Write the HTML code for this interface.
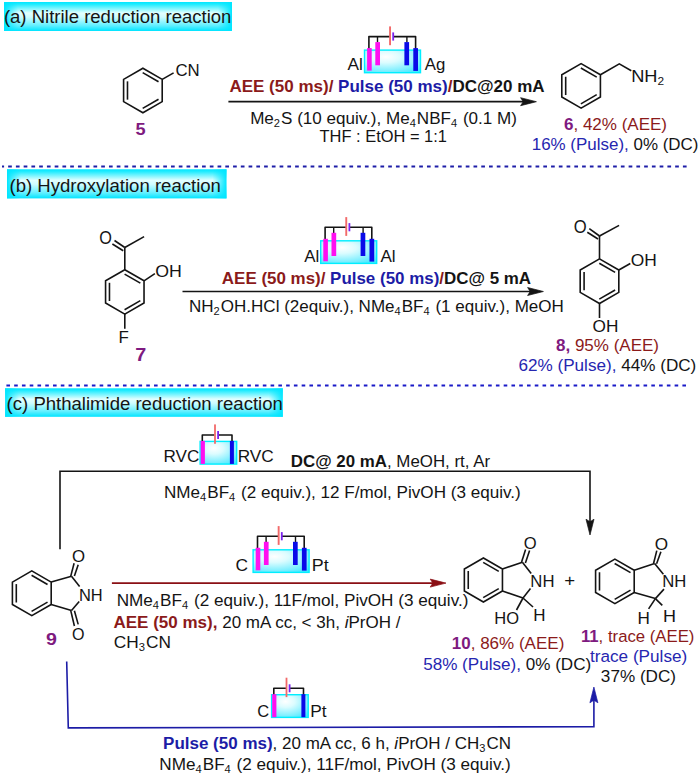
<!DOCTYPE html><html><head><meta charset="utf-8"><style>html,body{margin:0;padding:0;background:#fff;width:700px;height:776px;overflow:hidden}text{font-family:"Liberation Sans",sans-serif}</style></head><body><svg width="700" height="776" viewBox="0 0 700 776" font-family='"Liberation Sans", sans-serif' style="position:absolute;left:0;top:0;display:block"><defs>
<radialGradient id="cellg" cx="0.38" cy="0.3" r="0.85">
<stop offset="0" stop-color="#ffffff"/><stop offset="0.3" stop-color="#dcfcff"/><stop offset="0.7" stop-color="#86f0ff"/><stop offset="1" stop-color="#40e8ff"/>
</radialGradient>
<linearGradient id="hdrv" x1="0" y1="0" x2="0" y2="1">
<stop offset="0" stop-color="#00e6ff"/><stop offset="0.08" stop-color="#22ecff"/><stop offset="0.38" stop-color="#e2ffff"/><stop offset="0.52" stop-color="#cefcff"/><stop offset="0.8" stop-color="#66f0ff"/><stop offset="1" stop-color="#00e4ff"/>
</linearGradient>
<linearGradient id="hdrl" x1="0" y1="0" x2="1" y2="0">
<stop offset="0" stop-color="#00e6ff" stop-opacity="1"/><stop offset="1" stop-color="#00e6ff" stop-opacity="0"/>
</linearGradient>
<linearGradient id="hdrr" x1="1" y1="0" x2="0" y2="0">
<stop offset="0" stop-color="#00e6ff" stop-opacity="1"/><stop offset="1" stop-color="#00e6ff" stop-opacity="0"/>
</linearGradient>
</defs><rect x="4" y="2" width="228.00" height="29.00" fill="url(#hdrv)"/><rect x="4" y="2" width="14.00" height="29.00" fill="url(#hdrl)"/><rect x="218.00" y="2" width="14.00" height="29.00" fill="url(#hdrr)"/><polygon points="142.90,68.20 162.21,79.35 162.21,101.65 142.90,112.80 123.59,101.65 123.59,79.35" fill="none" stroke="#141414" stroke-width="1.6" stroke-linejoin="miter"/><line x1="142.68" y1="72.58" x2="158.53" y2="81.73" stroke="#141414" stroke-width="1.6" stroke-linecap="butt"/><line x1="127.49" y1="99.65" x2="127.49" y2="81.35" stroke="#141414" stroke-width="1.6" stroke-linecap="butt"/><line x1="158.53" y1="99.27" x2="142.68" y2="108.42" stroke="#141414" stroke-width="1.6" stroke-linecap="butt"/><line x1="162.21" y1="79.35" x2="173.60" y2="72.90" stroke="#141414" stroke-width="1.6" stroke-linecap="butt"/><g transform="translate(364.00,49.60)"><rect x="0.5" y="0.5" width="56" height="22.6" fill="url(#cellg)" stroke="#00eeff" stroke-width="1.4"/><path d="M4.9,0 V-13 H26 M29.3,-13 H51.6 V0" fill="none" stroke="#141414" stroke-width="1.6" stroke-linejoin="round"/><path d="M13.5,-13 V-7 M42.9,-13 V-7" fill="none" stroke="#141414" stroke-width="1.4"/><rect x="25.1" y="-23.2" width="1.9" height="18.8" fill="#f26a6a"/><rect x="28.3" y="-17.2" width="1.8" height="8.2" fill="#7b22ee"/><rect x="3.1" y="-1.5" width="4.6" height="22.5" fill="#ff10f0"/><rect x="11.3" y="-7.5" width="4.7" height="23.2" fill="#ff10f0"/><rect x="40.4" y="-7.5" width="4.7" height="23.2" fill="#0a0ae8"/><rect x="49.3" y="-1.5" width="4.7" height="22.8" fill="#0a0ae8"/></g><line x1="228.40" y1="101.70" x2="528.00" y2="101.70" stroke="#141414" stroke-width="1.7" stroke-linecap="butt"/><polygon points="536.40,101.70 520.60,105.70 523.20,101.70 520.60,97.70" fill="#141414" stroke="#141414" stroke-width="0.7" stroke-linejoin="round"/><polygon points="581.10,63.60 600.41,74.75 600.41,97.05 581.10,108.20 561.79,97.05 561.79,74.75" fill="none" stroke="#141414" stroke-width="1.6" stroke-linejoin="miter"/><line x1="580.88" y1="67.98" x2="596.73" y2="77.13" stroke="#141414" stroke-width="1.6" stroke-linecap="butt"/><line x1="565.69" y1="95.05" x2="565.69" y2="76.75" stroke="#141414" stroke-width="1.6" stroke-linecap="butt"/><line x1="596.73" y1="94.67" x2="580.88" y2="103.82" stroke="#141414" stroke-width="1.6" stroke-linecap="butt"/><polyline points="600.41,74.75 619.3,63.9 631.3,70.8" fill="none" stroke="#141414" stroke-width="1.6"/><line x1="2" y1="166.5" x2="687.5" y2="166.5" stroke="#1e1ea8" stroke-width="2" stroke-dasharray="3.7 4.056" stroke-dashoffset="1.616"/><rect x="7" y="169.3" width="219.50" height="29.10" fill="url(#hdrv)"/><rect x="7" y="169.3" width="14.00" height="29.10" fill="url(#hdrl)"/><rect x="212.50" y="169.3" width="14.00" height="29.10" fill="url(#hdrr)"/><polygon points="124.80,269.70 144.03,280.80 144.03,303.00 124.80,314.10 105.57,303.00 105.57,280.80" fill="none" stroke="#141414" stroke-width="1.6" stroke-linejoin="miter"/><line x1="124.58" y1="274.08" x2="140.34" y2="283.18" stroke="#141414" stroke-width="1.6" stroke-linecap="butt"/><line x1="109.47" y1="301.00" x2="109.47" y2="282.80" stroke="#141414" stroke-width="1.6" stroke-linecap="butt"/><line x1="140.34" y1="300.62" x2="124.58" y2="309.72" stroke="#141414" stroke-width="1.6" stroke-linecap="butt"/><line x1="124.80" y1="269.70" x2="124.80" y2="247.50" stroke="#141414" stroke-width="1.6" stroke-linecap="butt"/><line x1="124.80" y1="247.50" x2="144.10" y2="236.60" stroke="#141414" stroke-width="1.6" stroke-linecap="butt"/><line x1="124.80" y1="247.50" x2="114.50" y2="240.50" stroke="#141414" stroke-width="1.6" stroke-linecap="butt"/><line x1="123.20" y1="250.80" x2="112.40" y2="244.00" stroke="#141414" stroke-width="1.6" stroke-linecap="butt"/><line x1="144.03" y1="280.80" x2="154.90" y2="273.70" stroke="#141414" stroke-width="1.6" stroke-linecap="butt"/><line x1="124.80" y1="314.10" x2="124.80" y2="328.80" stroke="#141414" stroke-width="1.6" stroke-linecap="butt"/><g transform="translate(320.20,240.30)"><rect x="0.5" y="0.5" width="56" height="22.6" fill="url(#cellg)" stroke="#00eeff" stroke-width="1.4"/><path d="M4.9,0 V-13 H26 M29.3,-13 H51.6 V0" fill="none" stroke="#141414" stroke-width="1.6" stroke-linejoin="round"/><path d="M13.5,-13 V-7 M42.9,-13 V-7" fill="none" stroke="#141414" stroke-width="1.4"/><rect x="25.1" y="-23.2" width="1.9" height="18.8" fill="#f26a6a"/><rect x="28.3" y="-17.2" width="1.8" height="8.2" fill="#7b22ee"/><rect x="3.1" y="-1.5" width="4.6" height="22.5" fill="#ff10f0"/><rect x="11.3" y="-7.5" width="4.7" height="23.2" fill="#ff10f0"/><rect x="40.4" y="-7.5" width="4.7" height="23.2" fill="#0a0ae8"/><rect x="49.3" y="-1.5" width="4.7" height="22.8" fill="#0a0ae8"/></g><line x1="182.50" y1="291.50" x2="535.00" y2="291.50" stroke="#141414" stroke-width="1.7" stroke-linecap="butt"/><polygon points="543.40,291.50 527.60,295.50 530.20,291.50 527.60,287.50" fill="#141414" stroke="#141414" stroke-width="0.7" stroke-linejoin="round"/><polygon points="599.50,258.90 618.81,270.05 618.81,292.35 599.50,303.50 580.19,292.35 580.19,270.05" fill="none" stroke="#141414" stroke-width="1.6" stroke-linejoin="miter"/><line x1="599.28" y1="263.28" x2="615.13" y2="272.43" stroke="#141414" stroke-width="1.6" stroke-linecap="butt"/><line x1="584.09" y1="290.35" x2="584.09" y2="272.05" stroke="#141414" stroke-width="1.6" stroke-linecap="butt"/><line x1="615.13" y1="289.97" x2="599.28" y2="299.12" stroke="#141414" stroke-width="1.6" stroke-linecap="butt"/><line x1="599.50" y1="258.90" x2="599.50" y2="236.00" stroke="#141414" stroke-width="1.6" stroke-linecap="butt"/><line x1="599.50" y1="236.00" x2="619.10" y2="225.40" stroke="#141414" stroke-width="1.6" stroke-linecap="butt"/><line x1="599.50" y1="236.00" x2="589.30" y2="228.60" stroke="#141414" stroke-width="1.6" stroke-linecap="butt"/><line x1="598.00" y1="239.00" x2="587.30" y2="232.30" stroke="#141414" stroke-width="1.6" stroke-linecap="butt"/><line x1="618.81" y1="270.05" x2="630.30" y2="263.50" stroke="#141414" stroke-width="1.6" stroke-linecap="butt"/><line x1="599.50" y1="303.50" x2="599.50" y2="318.00" stroke="#141414" stroke-width="1.6" stroke-linecap="butt"/><line x1="6.4" y1="385.4" x2="686" y2="385.4" stroke="#1a1ac8" stroke-width="2" stroke-dasharray="3.6 4.170" stroke-dashoffset="0.000"/><rect x="5.1" y="388.3" width="277.70" height="28.50" fill="url(#hdrv)"/><rect x="5.1" y="388.3" width="14.00" height="28.50" fill="url(#hdrl)"/><rect x="268.80" y="388.3" width="14.00" height="28.50" fill="url(#hdrr)"/><g transform="translate(199.60,440.90)"><rect x="0.5" y="0.5" width="36.6" height="22.7" fill="url(#cellg)" stroke="#00eeff" stroke-width="1.4"/><path d="M2.7,0.5 V-5.9 H15 M18.3,-5.9 H32.4 V0.5" fill="none" stroke="#141414" stroke-width="1.6" stroke-linejoin="round"/><rect x="14.5" y="-16.5" width="1.8" height="19.4" fill="#f26a6a"/><rect x="17.6" y="-9.9" width="1.8" height="8" fill="#7b22ee"/><rect x="1.1" y="0" width="4.2" height="23" fill="#ff10f0"/><rect x="30.3" y="0" width="4.0" height="23" fill="#0a0ae8"/></g><polyline points="60,549.3 60,471.3 590,471.3 590,522" fill="none" stroke="#141414" stroke-width="1.6"/><polygon points="590.00,535.00 586.00,519.20 590.00,521.80 594.00,519.20" fill="#141414" stroke="#141414" stroke-width="0.7" stroke-linejoin="round"/><g transform="translate(252.60,549.30)"><rect x="0.5" y="0.5" width="56" height="22.6" fill="url(#cellg)" stroke="#00eeff" stroke-width="1.4"/><path d="M4.9,0 V-13 H26 M29.3,-13 H51.6 V0" fill="none" stroke="#141414" stroke-width="1.6" stroke-linejoin="round"/><path d="M13.5,-13 V-7 M42.9,-13 V-7" fill="none" stroke="#141414" stroke-width="1.4"/><rect x="25.1" y="-23.2" width="1.9" height="18.8" fill="#f26a6a"/><rect x="28.3" y="-17.2" width="1.8" height="8.2" fill="#7b22ee"/><rect x="3.1" y="-1.5" width="4.6" height="22.5" fill="#ff10f0"/><rect x="11.3" y="-7.5" width="4.7" height="23.2" fill="#ff10f0"/><rect x="40.4" y="-7.5" width="4.7" height="23.2" fill="#0a0ae8"/><rect x="49.3" y="-1.5" width="4.7" height="22.8" fill="#0a0ae8"/></g><line x1="111.90" y1="583.10" x2="436.00" y2="583.10" stroke="#8a0f14" stroke-width="1.7" stroke-linecap="butt"/><polygon points="446.00,583.10 430.20,587.10 432.80,583.10 430.20,579.10" fill="#8a0f14" stroke="#8a0f14" stroke-width="0.7" stroke-linejoin="round"/><polygon points="31.80,570.90 51.20,582.10 51.20,604.50 31.80,615.70 12.40,604.50 12.40,582.10" fill="none" stroke="#141414" stroke-width="1.6" stroke-linejoin="miter"/><line x1="31.58" y1="575.28" x2="47.52" y2="584.48" stroke="#141414" stroke-width="1.6" stroke-linecap="butt"/><line x1="16.30" y1="602.50" x2="16.30" y2="584.10" stroke="#141414" stroke-width="1.6" stroke-linecap="butt"/><line x1="47.52" y1="602.12" x2="31.58" y2="611.32" stroke="#141414" stroke-width="1.6" stroke-linecap="butt"/><line x1="51.20" y1="582.10" x2="71.50" y2="576.30" stroke="#141414" stroke-width="1.6" stroke-linecap="butt"/><line x1="51.20" y1="604.50" x2="71.50" y2="610.50" stroke="#141414" stroke-width="1.6" stroke-linecap="butt"/><line x1="71.50" y1="576.30" x2="79.60" y2="586.40" stroke="#141414" stroke-width="1.6" stroke-linecap="butt"/><line x1="71.50" y1="610.50" x2="79.20" y2="601.40" stroke="#141414" stroke-width="1.6" stroke-linecap="butt"/><line x1="70.70" y1="576.40" x2="74.10" y2="563.30" stroke="#141414" stroke-width="1.6" stroke-linecap="butt"/><line x1="74.40" y1="576.00" x2="78.20" y2="564.70" stroke="#141414" stroke-width="1.6" stroke-linecap="butt"/><line x1="70.70" y1="610.40" x2="74.40" y2="626.00" stroke="#141414" stroke-width="1.6" stroke-linecap="butt"/><line x1="74.40" y1="610.80" x2="78.20" y2="624.40" stroke="#141414" stroke-width="1.6" stroke-linecap="butt"/><polygon points="483.40,558.00 502.45,569.00 502.45,591.00 483.40,602.00 464.35,591.00 464.35,569.00" fill="none" stroke="#141414" stroke-width="1.6" stroke-linejoin="miter"/><line x1="483.18" y1="562.38" x2="498.77" y2="571.38" stroke="#141414" stroke-width="1.6" stroke-linecap="butt"/><line x1="468.25" y1="589.00" x2="468.25" y2="571.00" stroke="#141414" stroke-width="1.6" stroke-linecap="butt"/><line x1="498.77" y1="588.62" x2="483.18" y2="597.62" stroke="#141414" stroke-width="1.6" stroke-linecap="butt"/><line x1="502.45" y1="569.00" x2="522.40" y2="562.30" stroke="#141414" stroke-width="1.6" stroke-linecap="butt"/><line x1="502.45" y1="591.00" x2="523.00" y2="598.00" stroke="#141414" stroke-width="1.6" stroke-linecap="butt"/><line x1="522.40" y1="562.30" x2="531.20" y2="573.60" stroke="#141414" stroke-width="1.6" stroke-linecap="butt"/><line x1="523.00" y1="598.00" x2="530.50" y2="588.50" stroke="#141414" stroke-width="1.6" stroke-linecap="butt"/><line x1="521.60" y1="562.00" x2="525.60" y2="549.40" stroke="#141414" stroke-width="1.6" stroke-linecap="butt"/><line x1="525.40" y1="563.00" x2="529.60" y2="550.60" stroke="#141414" stroke-width="1.6" stroke-linecap="butt"/><line x1="523.00" y1="598.00" x2="516.50" y2="610.00" stroke="#141414" stroke-width="1.6" stroke-linecap="butt"/><line x1="523.00" y1="598.00" x2="533.00" y2="607.00" stroke="#141414" stroke-width="1.6" stroke-linecap="butt"/><polygon points="614.90,559.10 634.21,570.25 634.21,592.55 614.90,603.70 595.59,592.55 595.59,570.25" fill="none" stroke="#141414" stroke-width="1.6" stroke-linejoin="miter"/><line x1="614.68" y1="563.48" x2="630.53" y2="572.63" stroke="#141414" stroke-width="1.6" stroke-linecap="butt"/><line x1="599.49" y1="590.55" x2="599.49" y2="572.25" stroke="#141414" stroke-width="1.6" stroke-linecap="butt"/><line x1="630.53" y1="590.17" x2="614.68" y2="599.32" stroke="#141414" stroke-width="1.6" stroke-linecap="butt"/><line x1="634.21" y1="570.25" x2="654.60" y2="563.40" stroke="#141414" stroke-width="1.6" stroke-linecap="butt"/><line x1="634.21" y1="592.55" x2="655.40" y2="598.60" stroke="#141414" stroke-width="1.6" stroke-linecap="butt"/><line x1="654.60" y1="563.40" x2="663.40" y2="574.20" stroke="#141414" stroke-width="1.6" stroke-linecap="butt"/><line x1="655.40" y1="598.60" x2="664.00" y2="589.10" stroke="#141414" stroke-width="1.6" stroke-linecap="butt"/><line x1="653.60" y1="563.20" x2="656.80" y2="550.60" stroke="#141414" stroke-width="1.6" stroke-linecap="butt"/><line x1="656.60" y1="563.80" x2="660.90" y2="551.70" stroke="#141414" stroke-width="1.6" stroke-linecap="butt"/><line x1="655.40" y1="598.60" x2="648.60" y2="608.90" stroke="#141414" stroke-width="1.6" stroke-linecap="butt"/><line x1="655.40" y1="598.60" x2="662.30" y2="605.40" stroke="#141414" stroke-width="1.6" stroke-linecap="butt"/><polyline points="66.7,661.4 68.3,727.9 593.9,726.7 593.9,700" fill="none" stroke="#1c1ca6" stroke-width="1.6"/><polygon points="593.90,687.00 597.90,702.80 593.90,700.20 589.90,702.80" fill="#1c1ca6" stroke="#1c1ca6" stroke-width="0.7" stroke-linejoin="round"/><g transform="translate(271.10,694.20)"><rect x="0.5" y="0.5" width="36.6" height="22.7" fill="url(#cellg)" stroke="#00eeff" stroke-width="1.4"/><path d="M2.7,0.5 V-5.9 H15 M18.3,-5.9 H32.4 V0.5" fill="none" stroke="#141414" stroke-width="1.6" stroke-linejoin="round"/><rect x="14.5" y="-16.5" width="1.8" height="19.4" fill="#f26a6a"/><rect x="17.6" y="-9.9" width="1.8" height="8" fill="#7b22ee"/><rect x="1.1" y="0" width="4.2" height="23" fill="#ff10f0"/><rect x="30.3" y="0" width="4.0" height="23" fill="#0a0ae8"/></g><text id="ha" x="3.90" y="22.50" font-size="18.3" textLength="227.46" lengthAdjust="spacingAndGlyphs"><tspan fill="#141414">(a) Nitrile reduction reaction</tspan></text><text id="cn" x="175.40" y="75.50" font-size="16.3" textLength="24.24" lengthAdjust="spacingAndGlyphs"><tspan fill="#141414">CN</tspan></text><text id="n5" x="135.54" y="135.00" font-size="17" textLength="10.10" lengthAdjust="spacingAndGlyphs"><tspan fill="#7e1a80" font-weight="bold">5</tspan></text><text id="al1" x="347.57" y="70.00" font-size="16" textLength="15.34" lengthAdjust="spacingAndGlyphs"><tspan fill="#141414">Al</tspan></text><text id="ag1" x="424.73" y="70.00" font-size="16" textLength="20.49" lengthAdjust="spacingAndGlyphs"><tspan fill="#141414">Ag</tspan></text><text id="aee1" x="229.45" y="91.70" font-size="16.9" font-weight="bold" textLength="315.12" lengthAdjust="spacingAndGlyphs"><tspan fill="#8b1a1a" font-weight="bold">AEE (50 ms)/ </tspan><tspan fill="#1c1ca6" font-weight="bold">Pulse (50 ms)</tspan><tspan fill="#8b1a1a" font-weight="bold">/</tspan><tspan fill="#141414" font-weight="bold">DC@20 mA</tspan></text><text id="me2s" x="250.17" y="123.50" font-size="16.8" textLength="266.79" lengthAdjust="spacingAndGlyphs"><tspan fill="#141414">Me</tspan><tspan fill="#141414" dy="3.19" font-size="10.92">2</tspan><tspan fill="#141414" dy="-3.19" dx="1.01">S (10 equiv.), Me</tspan><tspan fill="#141414" dy="3.19" font-size="10.92">4</tspan><tspan fill="#141414" dy="-3.19" dx="1.01">NBF</tspan><tspan fill="#141414" dy="3.19" font-size="10.92">4</tspan><tspan fill="#141414" dy="-3.19" dx="1.01"> (0.1 M)</tspan></text><text id="thf" x="319.57" y="142.00" font-size="16.4" textLength="127.37" lengthAdjust="spacingAndGlyphs"><tspan fill="#141414">THF : EtOH = 1:1</tspan></text><text id="nh2" x="631.19" y="81.60" font-size="16.5" textLength="32.89" lengthAdjust="spacingAndGlyphs"><tspan fill="#141414">NH</tspan><tspan fill="#141414" dy="3.14" font-size="10.72">2</tspan></text><text id="y6a" x="563.99" y="130.10" font-size="16.8" textLength="103.04" lengthAdjust="spacingAndGlyphs"><tspan fill="#7e1a80" font-weight="bold">6</tspan><tspan fill="#8b1a1a">, 42% (AEE)</tspan></text><text id="y6b" x="531.71" y="150.30" font-size="16.8" textLength="166.76" lengthAdjust="spacingAndGlyphs"><tspan fill="#2626b0">16% (Pulse), </tspan><tspan fill="#141414">0% (DC)</tspan></text><text id="hb" x="9.48" y="191.70" font-size="18.3" textLength="211.44" lengthAdjust="spacingAndGlyphs"><tspan fill="#141414">(b) Hydroxylation reaction</tspan></text><text id="o7" x="99.16" y="244.40" font-size="17.5" textLength="12.65" lengthAdjust="spacingAndGlyphs"><tspan fill="#141414">O</tspan></text><text id="oh7" x="155.17" y="276.80" font-size="16.8" textLength="26.59" lengthAdjust="spacingAndGlyphs"><tspan fill="#141414">OH</tspan></text><text id="f7" x="118.59" y="343.40" font-size="16.8" textLength="10.34" lengthAdjust="spacingAndGlyphs"><tspan fill="#141414">F</tspan></text><text id="n7" x="135.35" y="361.40" font-size="17.5" textLength="11.00" lengthAdjust="spacingAndGlyphs"><tspan fill="#7e1a80" font-weight="bold">7</tspan></text><text id="al2" x="304.27" y="261.60" font-size="16" textLength="15.03" lengthAdjust="spacingAndGlyphs"><tspan fill="#141414">Al</tspan></text><text id="al3" x="380.53" y="261.60" font-size="16" textLength="15.15" lengthAdjust="spacingAndGlyphs"><tspan fill="#141414">Al</tspan></text><text id="aee2" x="221.89" y="284.00" font-size="16.9" font-weight="bold" textLength="309.24" lengthAdjust="spacingAndGlyphs"><tspan fill="#8b1a1a" font-weight="bold">AEE (50 ms)/ </tspan><tspan fill="#1c1ca6" font-weight="bold">Pulse (50 ms)</tspan><tspan fill="#8b1a1a" font-weight="bold">/</tspan><tspan fill="#141414" font-weight="bold">DC@ 5 mA</tspan></text><text id="nh2oh" x="188.99" y="311.60" font-size="16.8" textLength="374.86" lengthAdjust="spacingAndGlyphs"><tspan fill="#141414">NH</tspan><tspan fill="#141414" dy="3.19" font-size="10.92">2</tspan><tspan fill="#141414" dy="-3.19" dx="1.01">OH.HCl (2equiv.), NMe</tspan><tspan fill="#141414" dy="3.19" font-size="10.92">4</tspan><tspan fill="#141414" dy="-3.19" dx="1.01">BF</tspan><tspan fill="#141414" dy="3.19" font-size="10.92">4</tspan><tspan fill="#141414" dy="-3.19" dx="1.01"> (1 equiv.), MeOH</tspan></text><text id="o8" x="573.80" y="232.60" font-size="17.5" textLength="12.93" lengthAdjust="spacingAndGlyphs"><tspan fill="#141414">O</tspan></text><text id="oh8a" x="630.82" y="265.70" font-size="16.8" textLength="26.05" lengthAdjust="spacingAndGlyphs"><tspan fill="#141414">OH</tspan></text><text id="oh8b" x="592.60" y="331.70" font-size="16.8" textLength="25.85" lengthAdjust="spacingAndGlyphs"><tspan fill="#141414">OH</tspan></text><text id="y8a" x="555.97" y="350.90" font-size="16.8" textLength="103.06" lengthAdjust="spacingAndGlyphs"><tspan fill="#7e1a80" font-weight="bold">8,</tspan><tspan fill="#8b1a1a"> 95% (AEE)</tspan></text><text id="y8b" x="518.44" y="371.20" font-size="16.8" textLength="177.88" lengthAdjust="spacingAndGlyphs"><tspan fill="#2626b0">62% (Pulse), </tspan><tspan fill="#141414">44% (DC)</tspan></text><text id="hc" x="6.62" y="409.60" font-size="18.3" textLength="276.20" lengthAdjust="spacingAndGlyphs"><tspan fill="#141414">(c) Phthalimide reduction reaction</tspan></text><text id="rvc1" x="163.54" y="461.60" font-size="16.8" textLength="35.81" lengthAdjust="spacingAndGlyphs"><tspan fill="#141414">RVC</tspan></text><text id="rvc2" x="237.70" y="461.60" font-size="16.8" textLength="36.15" lengthAdjust="spacingAndGlyphs"><tspan fill="#141414">RVC</tspan></text><text id="dc20" x="290.86" y="467.10" font-size="16.8" textLength="199.21" lengthAdjust="spacingAndGlyphs"><tspan fill="#141414" font-weight="bold">DC@ 20 mA</tspan><tspan fill="#141414">, MeOH, rt, Ar</tspan></text><text id="nme1" x="163.92" y="497.90" font-size="16.8" textLength="356.86" lengthAdjust="spacingAndGlyphs"><tspan fill="#141414">NMe</tspan><tspan fill="#141414" dy="3.19" font-size="10.92">4</tspan><tspan fill="#141414" dy="-3.19" dx="1.01">BF</tspan><tspan fill="#141414" dy="3.19" font-size="10.92">4</tspan><tspan fill="#141414" dy="-3.19" dx="1.01"> (2 equiv.), 12 F/mol, PivOH (3 equiv.)</tspan></text><text id="c1" x="235.42" y="570.70" font-size="16.5" textLength="12.53" lengthAdjust="spacingAndGlyphs"><tspan fill="#141414">C</tspan></text><text id="pt1" x="311.84" y="570.70" font-size="16.8" textLength="16.90" lengthAdjust="spacingAndGlyphs"><tspan fill="#141414">Pt</tspan></text><text id="nme2" x="116.66" y="605.80" font-size="16.8" textLength="351.80" lengthAdjust="spacingAndGlyphs"><tspan fill="#141414">NMe</tspan><tspan fill="#141414" dy="3.19" font-size="10.92">4</tspan><tspan fill="#141414" dy="-3.19" dx="1.01">BF</tspan><tspan fill="#141414" dy="3.19" font-size="10.92">4</tspan><tspan fill="#141414" dy="-3.19" dx="1.01"> (2 equiv.), 11F/mol, PivOH (3 equiv.)</tspan></text><text id="aee3" x="113.47" y="628.00" font-size="16.8" textLength="286.99" lengthAdjust="spacingAndGlyphs"><tspan fill="#8b1a1a" font-weight="bold">AEE (50 ms),</tspan><tspan fill="#141414"> 20 mA cc, &lt; 3h, </tspan><tspan fill="#141414" font-style="italic">i</tspan><tspan fill="#141414">PrOH /</tspan></text><text id="ch3cn1" x="113.72" y="647.80" font-size="16.8" textLength="57.19" lengthAdjust="spacingAndGlyphs"><tspan fill="#141414">CH</tspan><tspan fill="#141414" dy="3.19" font-size="10.92">3</tspan><tspan fill="#141414" dy="-3.19" dx="1.01">CN</tspan></text><text id="o9a" x="72.00" y="562.40" font-size="17.3" textLength="13.10" lengthAdjust="spacingAndGlyphs"><tspan fill="#141414">O</tspan></text><text id="o9b" x="72.00" y="640.00" font-size="17.3" textLength="12.53" lengthAdjust="spacingAndGlyphs"><tspan fill="#141414">O</tspan></text><text id="nh9" x="79.00" y="600.50" font-size="16.3" textLength="23.72" lengthAdjust="spacingAndGlyphs"><tspan fill="#141414">NH</tspan></text><text id="n9" x="46.10" y="644.60" font-size="17" textLength="10.90" lengthAdjust="spacingAndGlyphs"><tspan fill="#7e1a80" font-weight="bold">9</tspan></text><text id="o10" x="523.68" y="548.60" font-size="17.3" textLength="12.92" lengthAdjust="spacingAndGlyphs"><tspan fill="#141414">O</tspan></text><text id="nh10" x="530.36" y="586.60" font-size="16.5" textLength="24.11" lengthAdjust="spacingAndGlyphs"><tspan fill="#141414">NH</tspan></text><text id="ho10" x="494.22" y="623.50" font-size="16.3" textLength="24.74" lengthAdjust="spacingAndGlyphs"><tspan fill="#141414">HO</tspan></text><text id="h10" x="533.19" y="620.50" font-size="16.3" textLength="12.26" lengthAdjust="spacingAndGlyphs"><tspan fill="#141414">H</tspan></text><text id="plus" x="564.19" y="585.50" font-size="16.8" textLength="10.91" lengthAdjust="spacingAndGlyphs"><tspan fill="#141414">+</tspan></text><text id="o11" x="654.69" y="549.70" font-size="17.3" textLength="13.38" lengthAdjust="spacingAndGlyphs"><tspan fill="#141414">O</tspan></text><text id="nh11" x="662.34" y="587.40" font-size="16" textLength="24.09" lengthAdjust="spacingAndGlyphs"><tspan fill="#141414">NH</tspan></text><text id="h11a" x="637.56" y="624.30" font-size="16.8" textLength="12.39" lengthAdjust="spacingAndGlyphs"><tspan fill="#141414">H</tspan></text><text id="h11b" x="663.10" y="621.70" font-size="16.8" textLength="13.00" lengthAdjust="spacingAndGlyphs"><tspan fill="#141414">H</tspan></text><text id="y10a" x="451.74" y="649.10" font-size="16.8" textLength="112.57" lengthAdjust="spacingAndGlyphs"><tspan fill="#7e1a80" font-weight="bold">10</tspan><tspan fill="#8b1a1a">, 86% (AEE)</tspan></text><text id="y10b" x="423.16" y="669.50" font-size="16.8" textLength="168.10" lengthAdjust="spacingAndGlyphs"><tspan fill="#2626b0">58% (Pulse), </tspan><tspan fill="#141414">0% (DC)</tspan></text><text id="y11a" x="580.89" y="641.90" font-size="16.8" textLength="113.56" lengthAdjust="spacingAndGlyphs"><tspan fill="#7e1a80" font-weight="bold">11</tspan><tspan fill="#8b1a1a">, trace (AEE)</tspan></text><text id="y11b" x="590.03" y="661.60" font-size="16.8" textLength="97.21" lengthAdjust="spacingAndGlyphs"><tspan fill="#2626b0">trace (Pulse)</tspan></text><text id="y11c" x="600.86" y="681.50" font-size="16.8" textLength="75.18" lengthAdjust="spacingAndGlyphs"><tspan fill="#141414">37% (DC)</tspan></text><text id="c2" x="257.20" y="717.10" font-size="16" textLength="11.92" lengthAdjust="spacingAndGlyphs"><tspan fill="#141414">C</tspan></text><text id="pt2" x="310.16" y="717.10" font-size="16.8" textLength="16.31" lengthAdjust="spacingAndGlyphs"><tspan fill="#141414">Pt</tspan></text><text id="pulse3" x="163.10" y="748.70" font-size="16.8" textLength="347.92" lengthAdjust="spacingAndGlyphs"><tspan fill="#1c1ca6" font-weight="bold">Pulse (50 ms)</tspan><tspan fill="#141414">, 20 mA cc, 6 h, </tspan><tspan fill="#141414" font-style="italic">i</tspan><tspan fill="#141414">PrOH / CH</tspan><tspan fill="#141414" dy="3.19" font-size="10.92">3</tspan><tspan fill="#141414" dy="-3.19" dx="1.01">CN</tspan></text><text id="nme3" x="159.33" y="769.80" font-size="16.8" textLength="351.34" lengthAdjust="spacingAndGlyphs"><tspan fill="#141414">NMe</tspan><tspan fill="#141414" dy="3.19" font-size="10.92">4</tspan><tspan fill="#141414" dy="-3.19" dx="1.01">BF</tspan><tspan fill="#141414" dy="3.19" font-size="10.92">4</tspan><tspan fill="#141414" dy="-3.19" dx="1.01"> (2 equiv.), 11F/mol, PivOH (3 equiv.)</tspan></text></svg></body></html>
